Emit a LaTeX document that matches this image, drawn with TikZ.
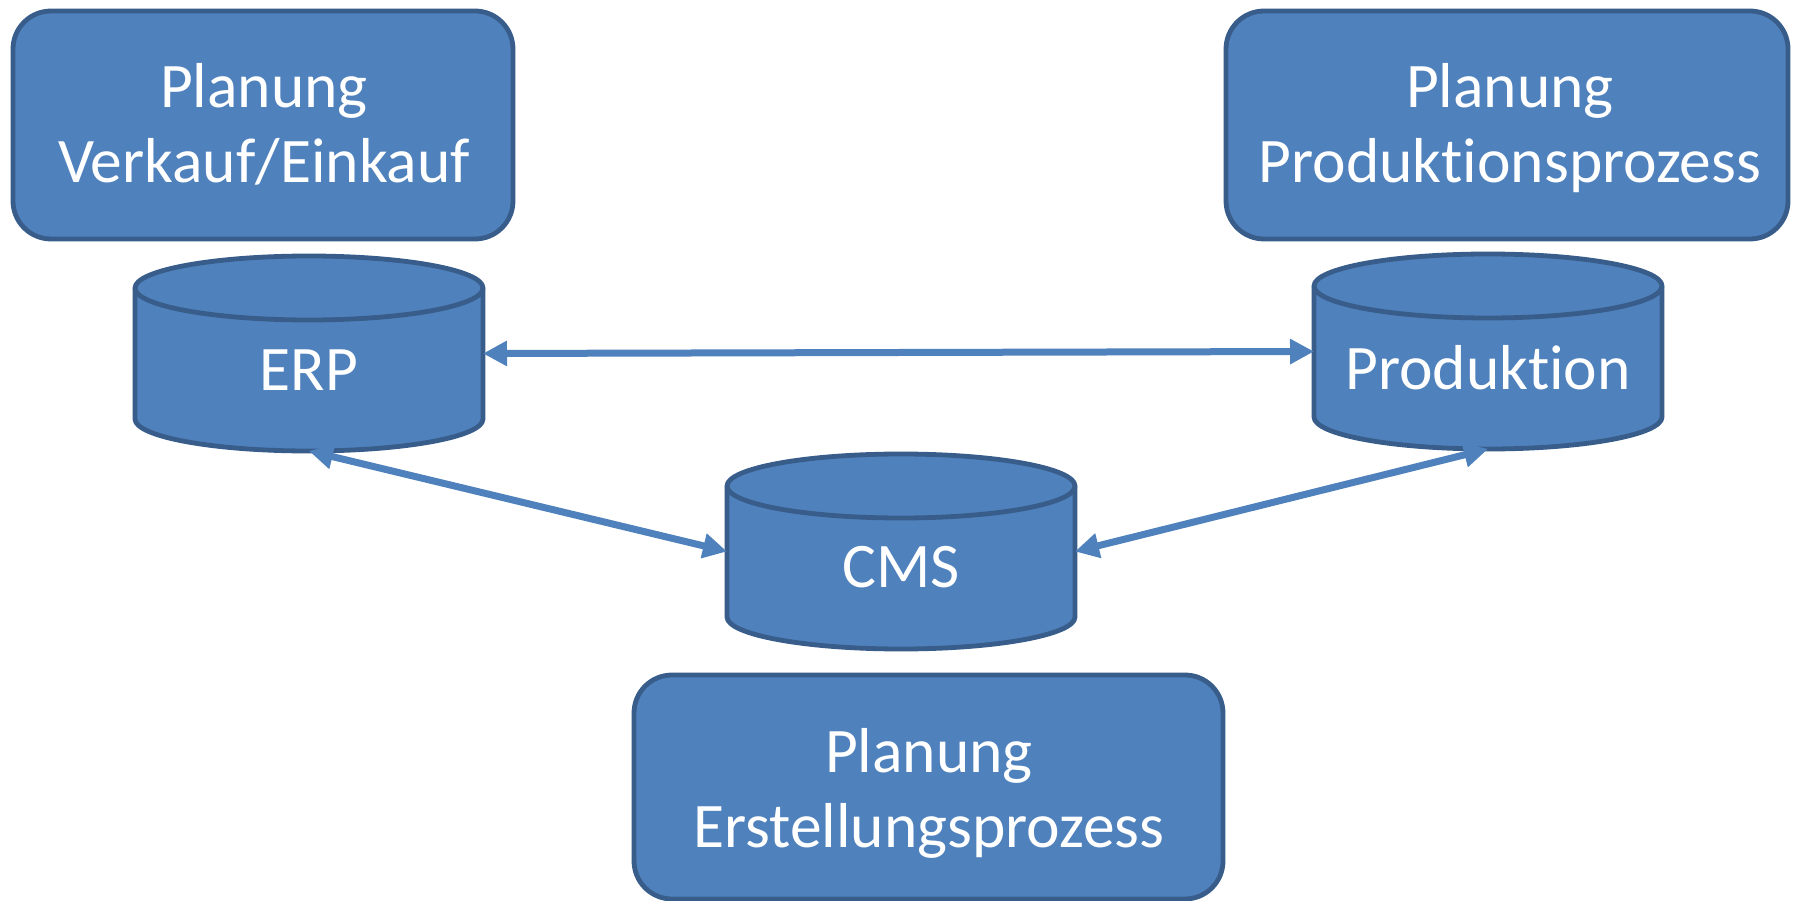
\documentclass[tikz,border=0pt]{standalone}
\usepackage{fontspec}
\setmainfont{Carlito}[Ligatures=NoCommon]
\usetikzlibrary{arrows.meta}
\definecolor{boxfill}{HTML}{4F81BD}
\definecolor{boxline}{HTML}{385D8A}
\definecolor{arrowcol}{HTML}{4F81BD}
\newcommand\dbcylinder[3]{%
  \path[cylshape] (#2-174,#3-65.5) -- (#2-174,#3+65.5)
    arc[start angle=180,end angle=0,x radius=174,y radius=32]
    -- (#2+174,#3-65.5)
    arc[start angle=0,end angle=-180,x radius=174,y radius=32] -- cycle;
  \draw[cylshape,fill=none] (#2-174,#3-65.5)
    arc[start angle=180,end angle=0,x radius=174,y radius=32];
  \node[anchorbox] (#1) at (#2,#3) {};
}
\begin{document}
\begin{tikzpicture}[x=1pt,y=-1pt,
  planbox/.style={rectangle, draw=boxline, fill=boxfill, line width=4.8pt, rounded corners=38pt, inner sep=0pt},
  lbl/.style={text=white, font=\fontsize{63.5}{75}\selectfont, inner sep=0pt, anchor=base},
  cylshape/.style={draw=boxline, fill=boxfill, line width=4.8pt, line join=round},
  anchorbox/.style={rectangle, draw=none, fill=none, minimum width=348pt, minimum height=195pt, inner sep=0pt, outer sep=0pt},
  link/.style={draw=arrowcol, line width=7pt, {Triangle[length=24pt,width=24pt]}-{Triangle[length=24pt,width=24pt]}}
]
\useasboundingbox (0,0) rectangle (1793,901);
\fill[white] (0,0) rectangle (1793,901);

% planning boxes
\node[planbox, minimum width=500pt, minimum height=228pt] (b1) at (263,125) {};
\node[planbox, minimum width=562pt, minimum height=228pt] (b2) at (1507,125) {};
\node[planbox, minimum width=589pt, minimum height=224pt] (b3) at (928.5,787) {};

\node[lbl] (b1a) at (264,108) {Planung};
\node[lbl] (b1b) at (264,183) {Verkauf/Einkauf};
\node[lbl] (b2a) at (1510,108) {Planung};
\node[lbl] (b2b) at (1510,183) {Produktionsprozess};
\node[lbl] (b3a) at (929,772) {Planung};
\node[lbl] (b3b) at (929,847) {Erstellungsprozess};

% databases
\dbcylinder{erp}{309}{353.5}
\dbcylinder{prod}{1488}{351.5}
\dbcylinder{cms}{901}{551.5}

\node[lbl] (erpt) at (309,390) {ERP};
\node[lbl] (prodt) at (1488,389) {Produktion};
\node[lbl] (cmst) at (901,587) {CMS};

% connectors
\draw[link] (erp.east) -- (prod.west);
\draw[link] (erp.south) -- (cms.west);
\draw[link] (cms.east) -- (prod.south);
\end{tikzpicture}
\end{document}
